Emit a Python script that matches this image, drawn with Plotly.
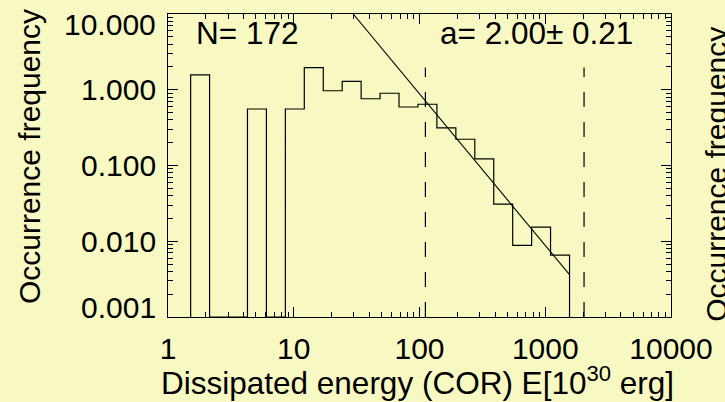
import math
import plotly.graph_objects as go

# ---- data ----
bin_edges = [1.514, 2.141, 3.029, 4.285, 6.062, 8.577, 12.13, 17.17, 24.28, 34.35,
             48.59, 68.73, 97.23, 137.5, 194.6, 275.3, 389.4, 550.8, 779.4, 1102.0, 1560.0]
freq = [1.575, 0.0, 0.0, 0.557, 0.0, 0.557, 1.965, 0.970, 1.286, 0.761,
        0.899, 0.592, 0.644, 0.314, 0.222, 0.122, 0.031, 0.0088, 0.0154, 0.00655]
fit_x = [29.7, 1560.0]
fit_y = [10.0, 0.00362]
fit_limits = [111.4, 2035.0]
n_events = 172
slope_txt = "2.00"
slope_err = "0.21"

x_ticks = [1, 10, 100, 1000, 10000]
x_ticklabels = ["1", "10", "100", "1000", "10000"]
y_ticks = [0.001, 0.01, 0.1, 1, 10]
y_ticklabels = ["0.001", "0.010", "0.100", "1.000", "10.000"]

YMIN, YMAX = 0.001, 10.0
BG = "#F8F9C2"
FONT = "Liberation Sans, Arial, sans-serif"
TICK_SIZE = 30

# ---- histogram outline (step) ----
vals = [v if v > 0 else YMIN for v in freq]
hx = [bin_edges[0]] + bin_edges
hy = [YMIN] + vals + [YMIN]

fig = go.Figure()
fig.add_trace(go.Scatter(x=hx, y=hy, mode="lines", line=dict(color="black", width=1.2, shape="hv"),
                         hoverinfo="skip", showlegend=False))
fig.add_trace(go.Scatter(x=fit_x, y=fit_y, mode="lines", line=dict(color="black", width=1.1),
                         hoverinfo="skip", showlegend=False))
top = max(freq)
for xl in fit_limits:
    fig.add_trace(go.Scatter(x=[xl, xl], y=[YMIN, top], mode="lines",
                             line=dict(color="black", width=1.2, dash="15px,15px"),
                             hoverinfo="skip", showlegend=False))

axis_common = dict(type="log", showgrid=False, zeroline=False, showline=True, linecolor="black",
                   linewidth=1.2, mirror="allticks", ticks="inside", ticklen=10, tickwidth=1.2,
                   tickcolor="black", tickfont=dict(family=FONT, size=TICK_SIZE, color="black"),
                   ticklabeloverflow="allow",
                   minor=dict(ticks="inside", ticklen=5, tickwidth=1, tickcolor="black",
                              dtick="D1", showgrid=False))

fig.update_xaxes(range=[0, 4], tickvals=x_ticks, ticktext=x_ticklabels, ticklabelstandoff=5,
                 **axis_common)
fig.update_yaxes(range=[-3, 1], tickvals=y_ticks, ticktext=y_ticklabels, showticklabels=False,
                 **axis_common)

annotations = []
# y tick labels (end labels nudged inward, as in the reference)
for i, (v, t) in enumerate(zip(y_ticks, y_ticklabels)):
    shift = 10 if i == 0 else (-10 if i == len(y_ticks) - 1 else 0)
    annotations.append(dict(text=t, xref="paper", yref="y", x=0, y=math.log10(v),
                            xanchor="right", yanchor="middle", xshift=-10, yshift=shift,
                            showarrow=False, font=dict(size=TICK_SIZE)))

annotations += [
    dict(text=f"N= {n_events}", xref="paper", yref="paper", x=0.051, y=0.937,
         xanchor="left", yanchor="middle", showarrow=False, font=dict(size=31.5)),
    dict(text=f"a= {slope_txt}± {slope_err}", xref="paper", yref="paper", x=0.929, y=0.937,
         xanchor="right", yanchor="middle", showarrow=False, font=dict(size=31.5)),
    dict(text="Dissipated energy (COR) E[10<sup>30</sup> erg]", xref="paper", yref="paper",
         x=0.497, y=-0.212, xanchor="center", yanchor="middle", showarrow=False, font=dict(size=31.5)),
    dict(text="Occurrence frequency", xref="paper", yref="paper", x=-0.275, y=0.53,
         xanchor="center", yanchor="middle", textangle=-90, showarrow=False, font=dict(size=30)),
    dict(text="Occurrence frequency", xref="paper", yref="paper", x=1.09, y=0.47,
         xanchor="center", yanchor="middle", textangle=-90, showarrow=False, font=dict(size=30)),
]

fig.update_layout(
    width=725, height=402,
    margin=dict(l=168, r=45, t=14, b=85),
    paper_bgcolor=BG, plot_bgcolor=BG,
    font=dict(family=FONT, color="black"),
    annotations=annotations,
)

fig.write_html("out.html")
